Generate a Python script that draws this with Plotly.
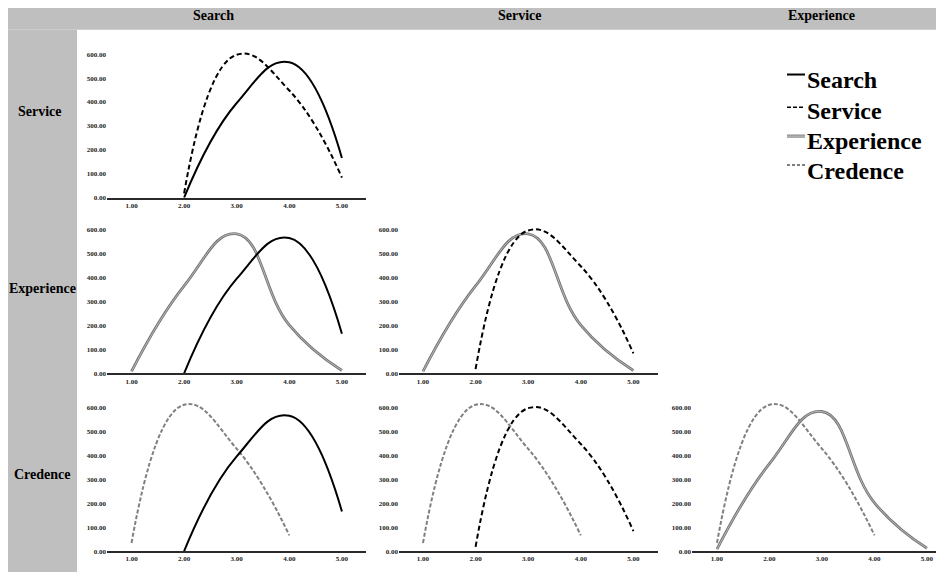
import plotly.graph_objects as go

# ---------------- data ----------------
categories = ["Search", "Service", "Experience", "Credence"]
tick_x = [1, 2, 3, 4, 5]
tick_y = [0, 100, 200, 300, 400, 500, 600]

search_x = [2, 3, 4, 5]
search_y = [0, 396, 566, 166]

service_x = [2, 3, 4, 5]
service_y = [18, 598, 448, 84]

experience_x = [1, 2, 3, 4, 5]
experience_y = [8, 366, 584, 202, 12]

credence_x = [1, 2, 3, 4]
credence_y = [34, 612, 428, 66]

# panels: (row label, column label)
panels = [
    ("Service", "Search"),
    ("Experience", "Search"),
    ("Experience", "Service"),
    ("Credence", "Search"),
    ("Credence", "Service"),
    ("Credence", "Experience"),
]

# ---------------- layout helpers ----------------
W, H = 944, 572
OFF = 8  # page body margin
FW, FH = W - OFF, H - OFF
FONT = "Liberation Serif"
SMOOTH = 1.3


def px(x):
    return (x - OFF) / FW


def py(y):
    return 1 - (y - OFF) / FH


col_px = {"Search": (107, 366), "Service": (399, 658), "Experience": (692, 944)}
col_range = {"Search": (0.534, 5.458), "Service": (0.544, 5.468), "Experience": (0.524, 5.324)}
row_px = {"Service": (199, 42.5), "Experience": (376, 219.5), "Credence": (555, 398.5)}

series = {
    "Search": (search_x, search_y),
    "Service": (service_x, service_y),
    "Experience": (experience_x, experience_y),
    "Credence": (credence_x, credence_y),
}


def add_series(fig, name, xa, ya):
    xs, ys = series[name]
    common = dict(x=xs, y=ys, mode="lines", xaxis=xa, yaxis=ya, showlegend=False,
                  cliponaxis=False, hoverinfo="skip")
    if name == "Search":
        fig.add_trace(go.Scatter(**common, line=dict(color="#000000", width=2,
                                                     shape="spline", smoothing=SMOOTH)))
    elif name == "Service":
        fig.add_trace(go.Scatter(**common, line=dict(color="#000000", width=2, dash="5px,3px",
                                                     shape="spline", smoothing=SMOOTH)))
    elif name == "Experience":
        fig.add_trace(go.Scatter(**common, line=dict(color="#777777", width=2.8,
                                                     shape="spline", smoothing=SMOOTH)))
        fig.add_trace(go.Scatter(**common, line=dict(color="#c8c8c8", width=0.8,
                                                     shape="spline", smoothing=SMOOTH)))
    else:
        fig.add_trace(go.Scatter(**common, line=dict(color="#808080", width=2, dash="4px,2px",
                                                     shape="spline", smoothing=SMOOTH)))


fig = go.Figure()
layout = {}
tickfont = dict(family=FONT, size=7, color="#222222", weight="bold")

for i, (row, col) in enumerate(panels, start=1):
    xa = "x" if i == 1 else f"x{i}"
    ya = "y" if i == 1 else f"y{i}"
    order = [col, row]
    for name in categories[::-1]:
        if name in order:
            add_series(fig, name, xa, ya)
    x0, x1 = col_px[col]
    yb, yt = row_px[row]
    layout["xaxis" if i == 1 else f"xaxis{i}"] = dict(
        domain=[px(x0), min(px(x1), 1)], range=list(col_range[col]), anchor=ya,
        tickvals=tick_x, tickformat=".2f", ticks="", showgrid=False, zeroline=False,
        showline=True, linecolor="#2a2a2a", linewidth=1.6, tickfont=tickfont, fixedrange=True,
    )
    layout["yaxis" if i == 1 else f"yaxis{i}"] = dict(
        domain=[py(yb), py(yt)], range=[0, 650], anchor=xa,
        tickvals=tick_y, tickformat=".2f", ticks="", showgrid=False, zeroline=False,
        showline=False, tickfont=tickfont, fixedrange=True,
    )

shapes = [
    dict(type="rect", xref="paper", yref="paper", x0=px(6), x1=px(940), y0=py(30), y1=py(3),
         fillcolor="#bfbfbf", line=dict(width=0), layer="below"),
    dict(type="rect", xref="paper", yref="paper", x0=px(6), x1=px(77), y0=py(580), y1=py(30),
         fillcolor="#bfbfbf", line=dict(width=0), layer="below"),
]

annotations = []
header_pos = {"Search": 213, "Service": 520, "Experience": 821}
for name, xc in header_pos.items():
    annotations.append(dict(text=name, x=px(xc), y=py(16), xref="paper", yref="paper",
                            showarrow=False, xanchor="center", yanchor="middle",
                            font=dict(family=FONT, size=14, color="#000000", weight="bold")))
row_pos = {"Service": (40, 112), "Experience": (42, 290), "Credence": (42, 478)}
for name, (xc, yc) in row_pos.items():
    annotations.append(dict(text=name, x=px(xc), y=py(yc), xref="paper", yref="paper",
                            showarrow=False, xanchor="center", yanchor="middle",
                            font=dict(family=FONT, size=14, color="#000000", weight="bold")))

# manual legend
leg_rows = {"Search": (75, 81), "Service": (108, 112), "Experience": (137, 142), "Credence": (166, 172)}
for name, (ly, ty) in leg_rows.items():
    if name == "Search":
        shapes.append(dict(type="line", xref="paper", yref="paper", x0=px(787), x1=px(805),
                           y0=py(ly), y1=py(ly), line=dict(color="#000000", width=2)))
    elif name == "Service":
        shapes.append(dict(type="line", xref="paper", yref="paper", x0=px(787), x1=px(805),
                           y0=py(ly), y1=py(ly), line=dict(color="#000000", width=1.5, dash="4px,2px")))
    elif name == "Experience":
        shapes.append(dict(type="line", xref="paper", yref="paper", x0=px(787), x1=px(805),
                           y0=py(ly), y1=py(ly), line=dict(color="#6e6e6e", width=3)))
        shapes.append(dict(type="line", xref="paper", yref="paper", x0=px(787), x1=px(805),
                           y0=py(ly), y1=py(ly), line=dict(color="#e0e0e0", width=1)))
    else:
        shapes.append(dict(type="line", xref="paper", yref="paper", x0=px(787), x1=px(805),
                           y0=py(ly), y1=py(ly), line=dict(color="#555555", width=1.5, dash="3px,2px")))
    annotations.append(dict(text=name, x=px(805), y=py(ty), xref="paper", yref="paper",
                            showarrow=False, xanchor="left", yanchor="middle",
                            font=dict(family=FONT, size=24, color="#000000", weight="bold")))

fig.update_layout(
    width=FW, height=FH, margin=dict(l=0, r=0, t=0, b=0),
    paper_bgcolor="#ffffff", plot_bgcolor="rgba(0,0,0,0)",
    shapes=shapes, annotations=annotations, showlegend=False,
    **layout,
)

fig.write_html("out.html")
